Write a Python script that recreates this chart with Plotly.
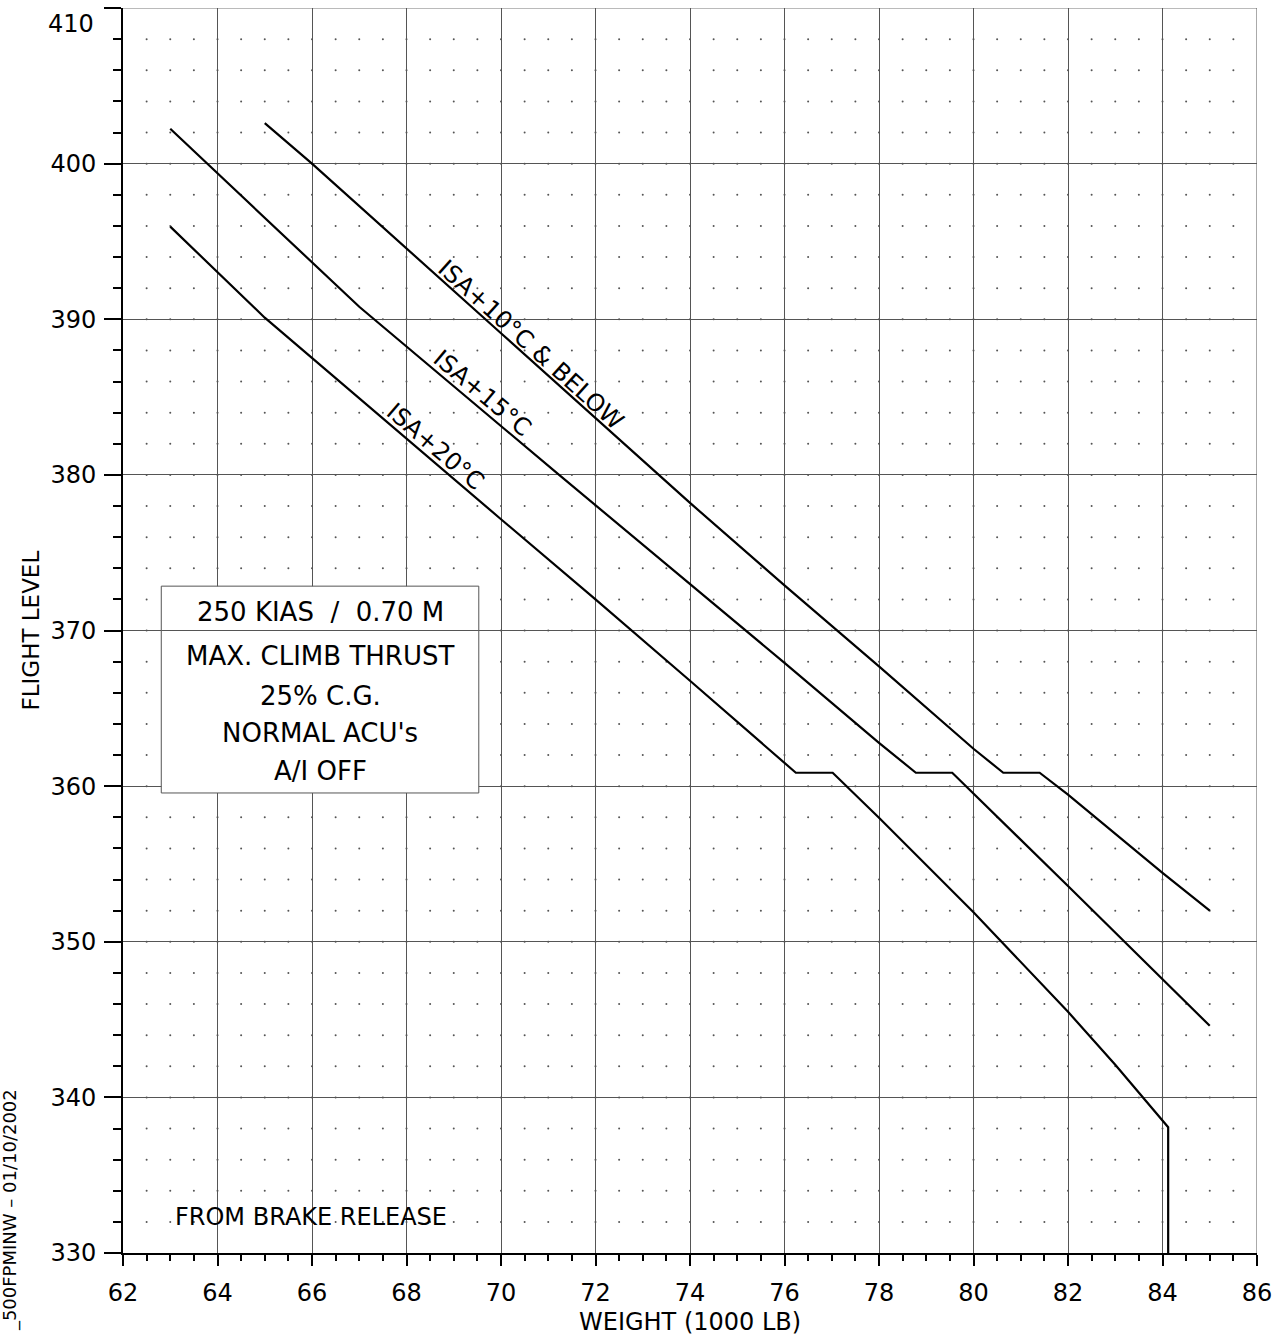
import numpy as np
import plotly.graph_objects as go

# ---- data ----
isa10_w = [65.0, 66.0, 70.0, 74.0, 76.0, 78.0, 80.0, 80.63, 81.40, 82.0, 84.0, 85.0]
isa10_fl = [402.6, 400.0, 389.1, 378.2, 372.9, 367.7, 362.4, 360.86, 360.86, 359.46, 354.43, 352.0]

isa15_w = [63.0, 67.0, 71.23, 75.18, 76.0, 78.0, 78.78, 79.55, 80.0, 82.0, 85.0]
isa15_fl = [402.24, 390.8, 380.0, 370.0, 367.92, 362.78, 360.86, 360.86, 359.53, 353.58, 344.6]

isa20_w = [63.0, 65.0, 70.0, 72.0, 74.0, 76.0, 76.24, 77.02, 78.0, 80.0, 81.0, 82.0, 83.0, 84.12, 84.12]
isa20_fl = [395.95, 390.1, 377.15, 372.0, 366.77, 361.54, 360.86, 360.86, 357.97, 351.9, 348.7, 345.5, 342.1, 338.08, 330.0]

curve_names = ["ISA+10°C & BELOW", "ISA+15°C", "ISA+20°C"]
label_x = [70.63, 69.60, 68.62]
label_y = [388.33, 385.25, 381.80]
label_angle = [42, 40, 40.5]

box_lines = ["250 KIAS\u00a0 /\u00a0 0.70 M", "MAX. CLIMB THRUST", "25% C.G.", "NORMAL ACU's", "A/I OFF"]
box_line_y = [371.2, 368.34, 365.8, 363.4, 361.0]

x_ticks = list(range(62, 87, 2))
y_ticks = list(range(330, 411, 10))

FONT = "DejaVu Sans"

fig = go.Figure()

# dotted background grid (every 0.5 in x, every 2 in y)
gx, gy = np.meshgrid(np.arange(62.5, 86.0, 0.5), np.arange(332, 410, 2))
fig.add_trace(go.Scatter(
    x=gx.ravel(), y=gy.ravel(), mode="markers",
    marker=dict(size=2, color="#555", line=dict(width=0)),
    hoverinfo="skip", showlegend=False))

for xs, ys in [(isa10_w, isa10_fl), (isa15_w, isa15_fl), (isa20_w, isa20_fl)]:
    fig.add_trace(go.Scatter(x=xs, y=ys, mode="lines",
                             line=dict(color="black", width=2.2),
                             showlegend=False, hoverinfo="skip"))

# curve labels
for name, lx, ly, ang in zip(curve_names, label_x, label_y, label_angle):
    fig.add_annotation(x=lx, y=ly, text=name, showarrow=False, textangle=ang,
                       font=dict(family=FONT, size=24, color="black"),
                       xanchor="center", yanchor="middle")

# info box
box_x0, box_x1, box_y0, box_y1 = 62.81, 69.53, 359.56, 372.85
fig.add_shape(type="rect", x0=box_x0, x1=box_x1, y0=box_y0, y1=box_y1,
              fillcolor="white", line=dict(color="#555", width=1), layer="above")
fig.add_shape(type="line", x0=box_x0, x1=box_x1, y0=370, y1=370,
              line=dict(color="#555", width=1), layer="above")
for t, yy in zip(box_lines, box_line_y):
    fig.add_annotation(x=(box_x0 + box_x1) / 2, y=yy, text=t, showarrow=False,
                       font=dict(family=FONT, size=26, color="black"),
                       xanchor="center", yanchor="middle")

fig.add_annotation(x=63.05, y=332.3, text="FROM BRAKE RELEASE", showarrow=False,
                   font=dict(family=FONT, size=24, color="black"),
                   xanchor="left", yanchor="middle")

# border lines at top and right (grey, like grid)
fig.add_shape(type="line", xref="paper", x0=0, x1=1, y0=410, y1=410,
              line=dict(color="#777", width=1), layer="below")
fig.add_shape(type="line", yref="paper", x0=86, x1=86, y0=0, y1=1,
              line=dict(color="#555", width=1), layer="below")

# axis titles
fig.add_annotation(xref="paper", yref="paper", x=0.5, y=-0.0554,
                   text="WEIGHT (1000 LB)", showarrow=False,
                   font=dict(family=FONT, size=24, color="black"),
                   xanchor="center", yanchor="middle")
fig.add_annotation(xref="paper", yref="paper", x=-0.082, y=0.5,
                   text="FLIGHT LEVEL", showarrow=False, textangle=-90,
                   font=dict(family=FONT, size=23, color="black"),
                   xanchor="center", yanchor="middle")
fig.add_annotation(xref="paper", yref="paper", x=-0.0996, y=0.1333,
                   text="_500FPMINW – 01/10/2002", showarrow=False, textangle=-90,
                   font=dict(family=FONT, size=18, color="black"),
                   xanchor="center", yanchor="top")

# top tick label (shifted down to stay inside the page, as in the reference)
y_ticktext = [str(v) for v in y_ticks]
y_ticktext[-1] = ""
fig.add_annotation(xref="paper", yref="y", x=-0.0238, y=y_ticks[-1],
                   text=str(y_ticks[-1]), showarrow=False,
                   font=dict(family=FONT, size=24, color="black"),
                   xanchor="right", yanchor="top")

fig.update_xaxes(range=[62, 86], tickvals=x_ticks, ticktext=[str(v) for v in x_ticks],
                 showgrid=True, gridcolor="#555", gridwidth=1, zeroline=False,
                 showline=True, linecolor="black", linewidth=2,
                 ticks="outside", ticklen=11, tickwidth=2, tickcolor="black",
                 tickfont=dict(family=FONT, size=24, color="black"),
                 ticklabelstandoff=6, ticklabeloverflow="allow",
                 minor=dict(dtick=0.5, tick0=62, ticks="outside", ticklen=6,
                            tickwidth=1.5, tickcolor="black", showgrid=False))
fig.update_yaxes(range=[330, 410], tickvals=y_ticks, ticktext=y_ticktext,
                 showgrid=True, gridcolor="#555", gridwidth=1, zeroline=False,
                 showline=True, linecolor="black", linewidth=2,
                 ticks="outside", ticklen=17, tickwidth=2, tickcolor="black",
                 tickfont=dict(family=FONT, size=24, color="black"),
                 ticklabelstandoff=3, ticklabeloverflow="allow",
                 minor=dict(dtick=2, tick0=330, ticks="outside", ticklen=8,
                            tickwidth=1.5, tickcolor="black", showgrid=False))

fig.update_layout(width=1277, height=1340,
                  margin=dict(l=123, r=20, t=8, b=87, autoexpand=False),
                  plot_bgcolor="white", paper_bgcolor="white",
                  showlegend=False)

fig.write_html("out.html")
